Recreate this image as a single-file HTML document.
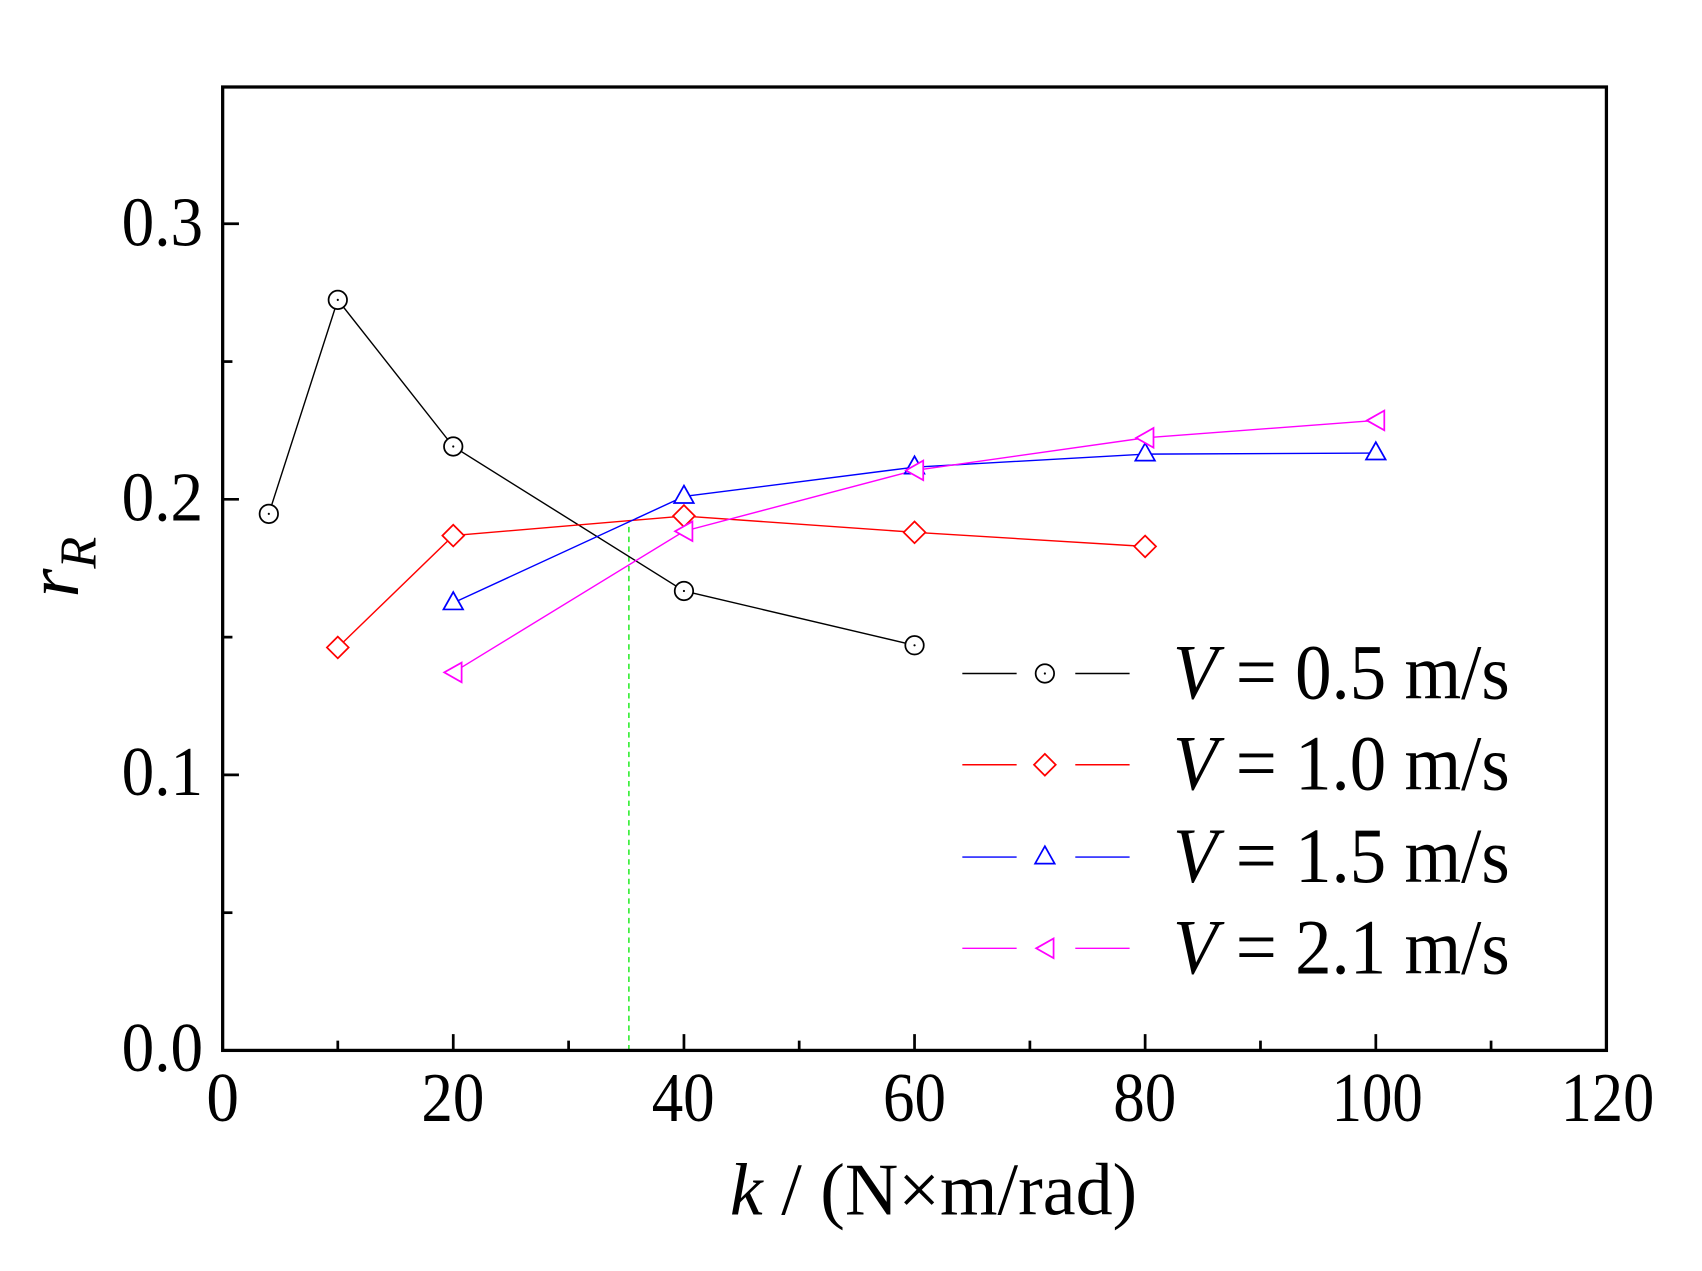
<!DOCTYPE html>
<html><head><meta charset="utf-8"><style>html,body{margin:0;padding:0;background:#fff}svg{display:block}</style></head>
<body>
<svg width="1702" height="1271" viewBox="0 0 1567 1170" xmlns="http://www.w3.org/2000/svg" font-family="Liberation Serif, serif">
<rect width="1567" height="1170" fill="#fff"/>
<line x1="579" y1="967" x2="579" y2="480" stroke="#33ee33" stroke-width="1.5" stroke-dasharray="5,4"/>
<rect x="205" y="80" width="1274" height="887" fill="none" stroke="#000" stroke-width="3"/>
<g stroke="#000" stroke-width="2.5">
<line x1="417.3" y1="967" x2="417.3" y2="952"/><line x1="629.7" y1="967" x2="629.7" y2="952"/><line x1="842" y1="967" x2="842" y2="952"/><line x1="1054.3" y1="967" x2="1054.3" y2="952"/><line x1="1266.7" y1="967" x2="1266.7" y2="952"/>
<line x1="311" y1="967" x2="311" y2="958"/><line x1="523.5" y1="967" x2="523.5" y2="958"/><line x1="735.8" y1="967" x2="735.8" y2="958"/><line x1="948.2" y1="967" x2="948.2" y2="958"/><line x1="1160.5" y1="967" x2="1160.5" y2="958"/><line x1="1372.8" y1="967" x2="1372.8" y2="958"/>
<line x1="205" y1="713.3" x2="220" y2="713.3"/><line x1="205" y1="459.6" x2="220" y2="459.6"/><line x1="205" y1="205.9" x2="220" y2="205.9"/>
<line x1="205" y1="840.2" x2="214" y2="840.2"/><line x1="205" y1="586.5" x2="214" y2="586.5"/><line x1="205" y1="332.8" x2="214" y2="332.8"/>
</g>
<g font-size="64" fill="#000" lengthAdjust="spacingAndGlyphs">
<text x="190" y="1032" textLength="30" lengthAdjust="spacingAndGlyphs">0</text>
<text x="388" y="1032" textLength="58" lengthAdjust="spacingAndGlyphs">20</text>
<text x="600" y="1032" textLength="58" lengthAdjust="spacingAndGlyphs">40</text>
<text x="813" y="1032" textLength="58" lengthAdjust="spacingAndGlyphs">60</text>
<text x="1025" y="1032" textLength="58" lengthAdjust="spacingAndGlyphs">80</text>
<text x="1226" y="1032" textLength="84" lengthAdjust="spacingAndGlyphs">100</text>
<text x="1437" y="1032" textLength="86" lengthAdjust="spacingAndGlyphs">120</text>
<text x="112" y="986" textLength="75" lengthAdjust="spacingAndGlyphs">0.0</text>
<text x="112" y="732" textLength="75" lengthAdjust="spacingAndGlyphs">0.1</text>
<text x="112" y="479" textLength="75" lengthAdjust="spacingAndGlyphs">0.2</text>
<text x="112" y="226" textLength="75" lengthAdjust="spacingAndGlyphs">0.3</text>
</g>
<text x="672" y="1118" font-size="68" textLength="375" lengthAdjust="spacingAndGlyphs"><tspan font-style="italic">k</tspan> / (N×m/rad)</text>
<text transform="translate(72,522) rotate(-90)" font-size="68" font-style="italic" text-anchor="middle">r<tspan font-size="48" dy="16">R</tspan></text>
<g fill="none" stroke-width="1.3">
<polyline stroke="#000" points="247.5,473 311,276 417.3,411 629.7,544 842,594"/>
<polyline stroke="#ff0000" points="311,596 417.3,493 629.7,475 842,490 1054.3,503"/>
<polyline stroke="#0000ff" points="417.3,555 629.7,457 842,430 1054.3,418 1266.7,417"/>
<polyline stroke="#ff00ff" points="417.3,619 629.7,489 842,433 1054.3,403 1266.7,387"/>
</g>
<g fill="#fff" stroke-width="1.6">
<g stroke="#000">
<circle cx="247.5" cy="473" r="8.5"/><circle cx="311" cy="276" r="8.5"/><circle cx="417.3" cy="411" r="8.5"/><circle cx="629.7" cy="544" r="8.5"/><circle cx="842" cy="594" r="8.5"/>
</g>
<g stroke="#ff0000">
<path d="M311,586 l10,10 l-10,10 l-10,-10z"/><path d="M417.3,483 l10,10 l-10,10 l-10,-10z"/><path d="M629.7,465 l10,10 l-10,10 l-10,-10z"/><path d="M842,480 l10,10 l-10,10 l-10,-10z"/><path d="M1054.3,493 l10,10 l-10,10 l-10,-10z"/>
</g>
<g stroke="#0000ff">
<path d="M417.3,545 l9,16 h-18z"/><path d="M629.7,447 l9,16 h-18z"/><path d="M842,420 l9,16 h-18z"/><path d="M1054.3,408 l9,16 h-18z"/><path d="M1266.7,407 l9,16 h-18z"/>
</g>
<g stroke="#ff00ff">
<path d="M409,619 l16,-9 v18z"/><path d="M621.5,489 l16,-9 v18z"/><path d="M834,433 l16,-9 v18z"/><path d="M1046,403 l16,-9 v18z"/><path d="M1258.5,387 l16,-9 v18z"/>
</g>
</g>
<g fill="#000"><circle cx="247.5" cy="473" r="1"/><circle cx="311" cy="276" r="1"/><circle cx="417.3" cy="411" r="1"/><circle cx="629.7" cy="544" r="1"/><circle cx="842" cy="594" r="1"/><circle cx="962" cy="620" r="1"/></g>
<g stroke-width="1.3">
<line x1="886" y1="620" x2="936" y2="620" stroke="#000"/><line x1="990" y1="620" x2="1040" y2="620" stroke="#000"/>
<circle cx="962" cy="620" r="8.5" fill="none" stroke="#000" stroke-width="1.6"/>
<line x1="886" y1="704" x2="936" y2="704" stroke="#ff0000"/><line x1="990" y1="704" x2="1040" y2="704" stroke="#ff0000"/>
<path d="M962,694 l10,10 l-10,10 l-10,-10z" fill="#fff" stroke="#ff0000" stroke-width="1.6"/>
<line x1="886" y1="789" x2="936" y2="789" stroke="#0000ff"/><line x1="990" y1="789" x2="1040" y2="789" stroke="#0000ff"/>
<path d="M962,779 l9,16 h-18z" fill="#fff" stroke="#0000ff" stroke-width="1.6"/>
<line x1="886" y1="873" x2="936" y2="873" stroke="#ff00ff"/><line x1="990" y1="873" x2="1040" y2="873" stroke="#ff00ff"/>
<path d="M954,873 l16,-9 v18z" fill="#fff" stroke="#ff00ff" stroke-width="1.6"/>
</g>
<g font-size="72" fill="#000">
<text x="1080" y="643" textLength="310" lengthAdjust="spacingAndGlyphs"><tspan font-style="italic">V</tspan> = 0.5 m/s</text>
<text x="1080" y="727" textLength="310" lengthAdjust="spacingAndGlyphs"><tspan font-style="italic">V</tspan> = 1.0 m/s</text>
<text x="1080" y="812" textLength="310" lengthAdjust="spacingAndGlyphs"><tspan font-style="italic">V</tspan> = 1.5 m/s</text>
<text x="1080" y="896" textLength="310" lengthAdjust="spacingAndGlyphs"><tspan font-style="italic">V</tspan> = 2.1 m/s</text>
</g>
</svg>
</body></html>
